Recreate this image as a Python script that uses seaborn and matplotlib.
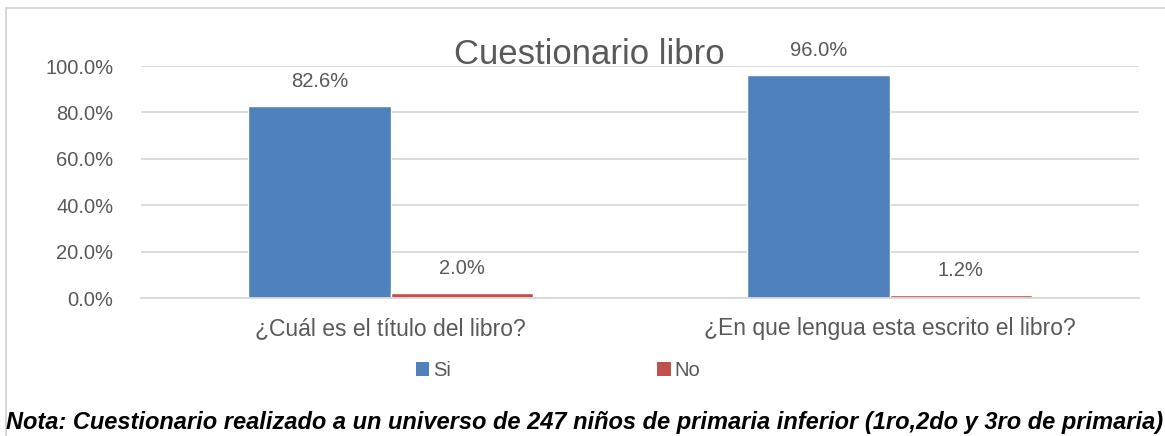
import matplotlib
matplotlib.use("Agg")
import matplotlib.pyplot as plt
import seaborn as sns
import pandas as pd
from matplotlib.patches import Patch
from matplotlib.lines import Line2D
from matplotlib.ticker import FuncFormatter

categories = ["¿Cuál es el título del libro?", "¿En que lengua esta escrito el libro?"]
series_names = ["Si", "No"]
si_values = [0.826, 0.960]
no_values = [0.020, 0.012]
y_ticks = [0.0, 0.2, 0.4, 0.6, 0.8, 1.0]
title = "Cuestionario libro"
note = "Nota: Cuestionario realizado a un universo de 247 niños de primaria inferior (1ro,2do y 3ro de primaria)"

colors = {"Si": "#4F81BD", "No": "#C0504D"}
txt = "#595959"
grid = "#D9D9D9"

df = pd.DataFrame({
    "Pregunta": categories * 2,
    "Serie": ["Si"] * len(categories) + ["No"] * len(categories),
    "Valor": si_values + no_values,
})

sns.set_theme(style="white")
FAM = ["Liberation Sans", "DejaVu Sans"]
plt.rcParams["font.family"] = FAM

fig = plt.figure(figsize=(11.65, 4.36), dpi=100)
W, H = 1165, 436
ax = fig.add_axes([141 / W, 1 - 298 / H, (1139 - 141) / W, (298 - 66) / H])

sns.barplot(data=df, x="Pregunta", y="Valor", hue="Serie", order=categories,
            hue_order=series_names, palette=colors, width=0.57, gap=0,
            saturation=1, ax=ax, legend=False)

ax.set_ylim(0, 1.0)
ax.set_xlim(-0.5, 1.5)
ax.set_yticks(y_ticks)
ax.yaxis.set_major_formatter(FuncFormatter(lambda v, p: f"{v*100:.1f}%"))
ax.grid(axis="y", color=grid, linewidth=1.3)
ax.set_axisbelow(True)
for s in ["top", "right", "left"]:
    ax.spines[s].set_visible(False)
ax.spines["bottom"].set_color(grid)
ax.spines["bottom"].set_linewidth(1.3)
ax.set_xlabel("")
ax.set_ylabel("")
ax.tick_params(axis="y", length=0, pad=20, labelsize=14.5, labelcolor=txt)
ax.tick_params(axis="x", length=0, pad=14, labelsize=16.5, labelcolor=txt)

vals = {"Si": si_values, "No": no_values}
for cont, name in zip(ax.containers, series_names):
    ax.bar_label(cont, labels=[f"{v*100:.1f}%" for v in vals[name]],
                 padding=11, fontsize=14.5, color=txt)

fig.text(589 / W, 1 - 55 / H, title, ha="center", va="center",
         fontsize=25, color=txt)

handles = [Patch(facecolor=colors[n], edgecolor="none") for n in series_names]
fig.legend(handles, series_names, loc="center", bbox_to_anchor=(558 / W, 1 - 371 / H),
           ncol=2, frameon=False, handlelength=0.69, handleheight=0.69,
           handletextpad=0.2, columnspacing=10.2, fontsize=14.5, labelcolor=txt)

fig.add_artist(Line2D([6 / W, 6 / W], [0, 1 - 8 / H], transform=fig.transFigure,
                      color=grid, linewidth=1.5))
fig.add_artist(Line2D([6 / W, 1], [1 - 8 / H, 1 - 8 / H], transform=fig.transFigure,
                      color=grid, linewidth=1.5))

fig.text(585 / W, 1 - 422 / H, note, ha="center", va="center", fontsize=17,
         fontweight="bold", fontstyle="italic", color="black")

fig.savefig("out.png", dpi=100)
